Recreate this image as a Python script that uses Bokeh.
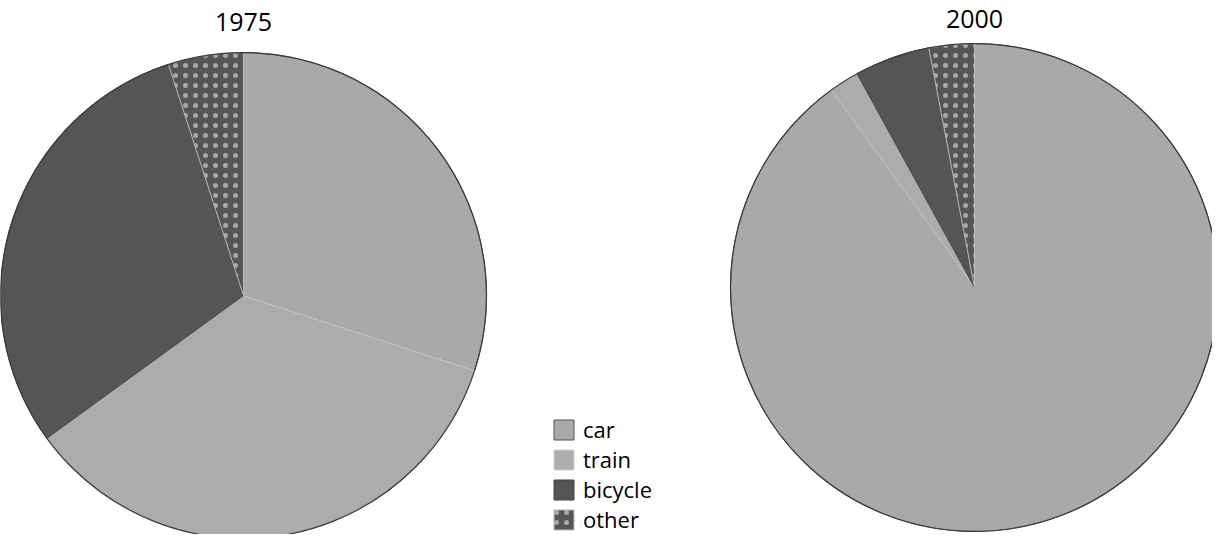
import math
from bokeh.plotting import figure
from bokeh.models import ColumnDataSource, Range1d, Legend, LegendItem
from bokeh.core.properties import value
from bokeh.embed import file_html
from bokeh.resources import INLINE

# ---- data ----
years = ["1975", "2000"]
categories = ["car", "train", "bicycle", "other"]
share_1975 = [30, 35, 30, 5]
share_2000 = [90, 2, 5, 3]

# ---- layout / style ----
W, H = 1212, 534
centers_x = [251, 982]
centers_y = [247, 255]
radii = [243, 244]
title_y = [521, 524]
fills = {"car": "#a9a9a9", "train": "#acacac", "bicycle": "#555555", "other": "#555555"}
lines = {"car": "#555555", "train": "#cfcfcf", "bicycle": "#444444", "other": "#bbbbbb"}
hatches = {"car": None, "train": None, "bicycle": None, "other": "."}

p = figure(width=W, height=H, output_backend="svg", toolbar_location=None,
           x_range=Range1d(8, 8 + W), y_range=Range1d(8, 8 + H),
           min_border=0, outline_line_color=None)
p.axis.visible = False
p.grid.visible = False
p.background_fill_color = "white"
p.border_fill_color = "white"

shares = [share_1975, share_2000]
renderers = {}
for ci, cat in enumerate(categories):
    starts, ends = [], []
    for s in shares:
        tot = float(sum(s))
        before = sum(s[:ci]) / tot
        after = sum(s[:ci + 1]) / tot
        starts.append(math.pi / 2 - 2 * math.pi * before)
        ends.append(math.pi / 2 - 2 * math.pi * after)
    src = ColumnDataSource(dict(x=centers_x, y=centers_y, r=radii, s=starts, e=ends))
    kw = {}
    if hatches[cat]:
        kw = dict(hatch_pattern=hatches[cat], hatch_color="#a8a8a8", hatch_scale=10, hatch_weight=1.0)
    r = p.wedge(x="x", y="y", radius="r", start_angle="s", end_angle="e", direction="clock",
                fill_color=fills[cat], line_color=lines[cat], line_width=1, source=src, **kw)
    renderers[cat] = r

# outer outline
p.circle(x=centers_x, y=centers_y, radius=radii, fill_color=None, line_color="#3a3a3a", line_width=1.2)

# titles
p.text(x=centers_x, y=title_y, text=years, text_align="center", text_baseline="middle",
       text_font=value("Open Sans"), text_font_size="25px", text_color="#000000")

legend = Legend(items=[LegendItem(label=c, renderers=[renderers[c]]) for c in categories],
                location=(551, 0), orientation="vertical",
                glyph_width=25, glyph_height=25, label_text_font_size="22px",
                label_text_font="Open Sans", label_text_line_height=1.0,
                label_text_color="#000000", label_standoff=7, spacing=0,
                padding=0, margin=0, border_line_color=None, background_fill_alpha=0,
                label_height=20)
p.add_layout(legend, "center")

open("out.html", "w").write(file_html(p, INLINE))
